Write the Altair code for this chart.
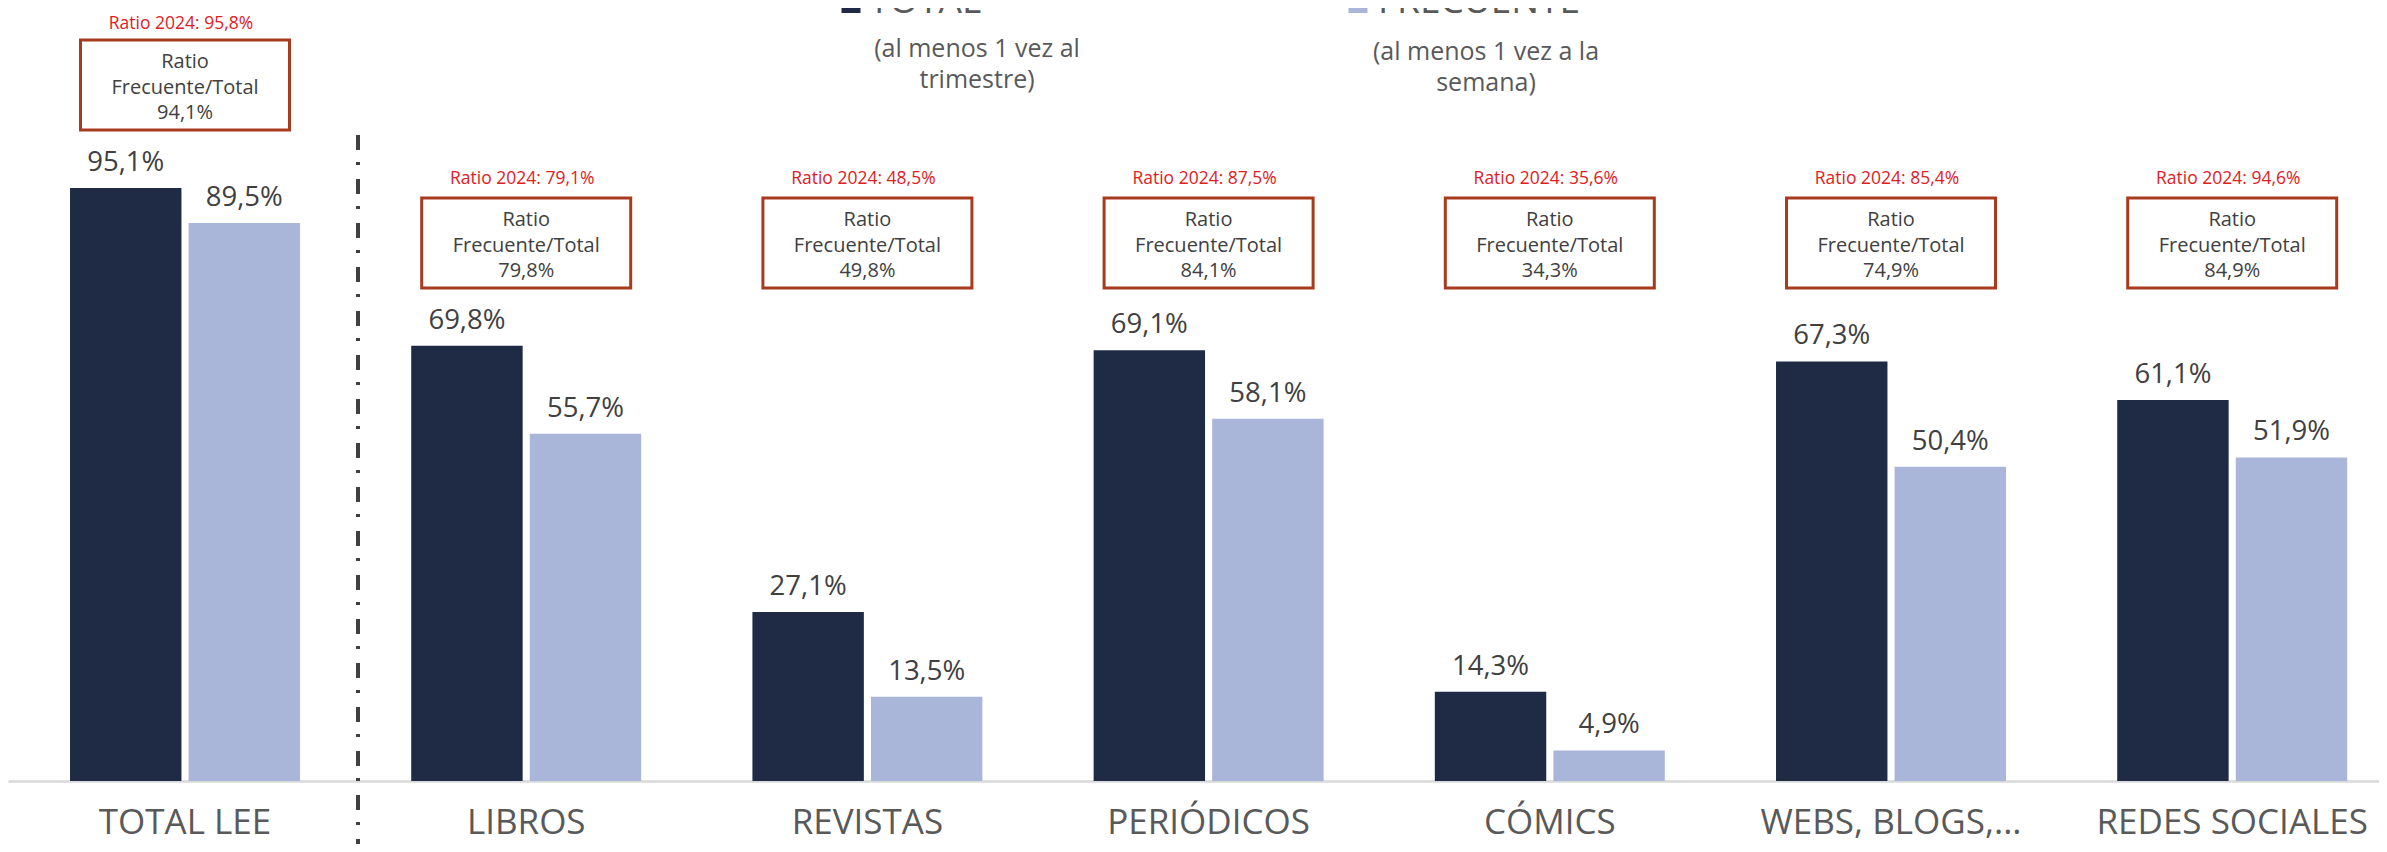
import altair as alt
import pandas as pd

categorias = ["TOTAL LEE", "LIBROS", "REVISTAS", "PERIÓDICOS", "CÓMICS", "WEBS, BLOGS,...", "REDES SOCIALES"]
total = [95.1, 69.8, 27.1, 69.1, 14.3, 67.3, 61.1]
frecuente = [89.5, 55.7, 13.5, 58.1, 4.9, 50.4, 51.9]
ratio_frec_total = [94.1, 79.8, 49.8, 84.1, 34.3, 74.9, 84.9]
ratio_2024 = [95.8, 79.1, 48.5, 87.5, 35.6, 85.4, 94.6]
series = ["TOTAL", "FRECUENTE"]
subtitulos = ["(al menos 1 vez al\ntrimestre)", "(al menos 1 vez a la\nsemana)"]
colores = ["#1F2A44", "#AAB6D9"]

FONT = "Open Sans"
BOX_COLOR = "#A83A1E"
RED = "#E0201F"
TXT = "#404040"
GREY = "#595959"

barras = pd.DataFrame({
    "categoria": categorias * 2,
    "serie": [series[0]] * len(categorias) + [series[1]] * len(categorias),
    "valor": total + frecuente,
})
ratios = pd.DataFrame({"categoria": categorias, "ratio": ratio_frec_total, "ratio24": ratio_2024})
leyenda = pd.DataFrame({"serie": series, "sub": subtitulos})

x_scale = alt.Scale(domain=categorias, paddingInner=0.326, paddingOuter=0.1375, align=0.661)
x_axis = alt.Axis(
    title=None, labelAngle=0, labelFontSize=35, labelFont=FONT, labelColor=GREY,
    ticks=False, tickSize=0, labelPadding=52, labelBaseline="alphabetic",
    domainColor="#D9D9D9", domainWidth=2.5, labelLimit=0, labelOverlap=False, grid=False,
)
x_enc = alt.X("categoria:N", sort=categorias, scale=x_scale, axis=x_axis)
y_scale = alt.Scale(domain=[0, 100], nice=False, zero=True)
xo_enc = alt.XOffset("serie:N", sort=series, scale=alt.Scale(domain=series, paddingInner=0.06, paddingOuter=0))
color_scale = alt.Scale(domain=series, range=colores)

pct = "replace(format({f}, '.1f'), '.', ',') + '%'"

bars = alt.Chart(barras).mark_bar().encode(
    x=x_enc,
    xOffset=xo_enc,
    y=alt.Y("valor:Q", scale=y_scale, axis=None),
    color=alt.Color("serie:N", scale=color_scale, legend=None),
)

bar_labels = alt.Chart(barras).transform_calculate(
    lbl=pct.format(f="datum.valor")
).mark_text(dy=-17, baseline="alphabetic", align="center", fontSize=27.5, font=FONT, color=TXT).encode(
    x=x_enc,
    xOffset=xo_enc,
    y=alt.Y("valor:Q", scale=y_scale, axis=None),
    text="lbl:N",
)

boxes = alt.Chart(ratios).transform_calculate(
    top="datum.categoria === 'TOTAL LEE' ? 118.85 : 93.5",
    bottom="datum.categoria === 'TOTAL LEE' ? 104.4 : 79.05",
).mark_bar(width=209, fill="white", stroke=BOX_COLOR, strokeWidth=3).encode(
    x=x_enc,
    y=alt.Y("top:Q", scale=y_scale, axis=None),
    y2="bottom:Q",
)

red_text = alt.Chart(ratios).transform_calculate(
    ry="datum.categoria === 'TOTAL LEE' ? 120.6 : 95.75",
    rt="'Ratio 2024: ' + " + pct.format(f="datum.ratio24"),
).mark_text(baseline="alphabetic", align="center", dx=-4, fontSize=17.5, font=FONT, color=RED).encode(
    x=x_enc,
    y=alt.Y("ry:Q", scale=y_scale, axis=None),
    text="rt:N",
)

box_text = alt.Chart(ratios).transform_calculate(
    ty="datum.categoria === 'TOTAL LEE' ? 114.35 : 89.0",
    tt="'Ratio\\nFrecuente/Total\\n' + " + pct.format(f="datum.ratio"),
).mark_text(baseline="alphabetic", align="center", lineBreak="\n", lineHeight=25.5,
            fontSize=20, font=FONT, color=TXT).encode(
    x=x_enc,
    y=alt.Y("ty:Q", scale=y_scale, axis=None),
    text="tt:N",
)

separator = alt.Chart(pd.DataFrame({"k": [0]})).mark_rule(
    strokeDash=[15, 12, 3, 14], strokeWidth=4, color=TXT
).encode(x=alt.value(350), y=alt.value(-22.5), y2=alt.value(700))

legend_layers = []
pos = {
    "TOTAL": dict(sq_x=843, lab_x=861, sub_x=969, sub_y=-100.5),
    "FRECUENTE": dict(sq_x=1350, lab_x=1370, sub_x=1478, sub_y=-97.5),
}
for s in series:
    p = pos[s]
    src = alt.Chart(leyenda).transform_filter(alt.datum.serie == s)
    legend_layers.append(
        src.mark_square(size=361, opacity=1).encode(
            x=alt.value(p["sq_x"]), y=alt.value(-154),
            color=alt.Color("serie:N", scale=color_scale, legend=None),
        )
    )
    legend_layers.append(
        src.mark_text(align="left", baseline="alphabetic", fontSize=37, font=FONT, color=GREY).encode(
            x=alt.value(p["lab_x"]), y=alt.value(-145), text="serie:N",
        )
    )
    legend_layers.append(
        src.mark_text(align="center", baseline="alphabetic", fontSize=25, font=FONT, color=GREY,
                      lineBreak="\n", lineHeight=31).encode(
            x=alt.value(p["sub_x"]), y=alt.value(p["sub_y"]), text="sub:N",
        )
    )

chart = alt.layer(
    bars, bar_labels, boxes, red_text, box_text, separator, *legend_layers
).properties(
    width=2371,
    height=623.5,
    autosize=alt.AutoSizeParams(type="none"),
    padding={"left": 0, "top": 149.5, "right": 0, "bottom": 63},
    background="white",
).configure(font=FONT).configure_view(stroke=None, strokeWidth=0)

chart.save("out.html", embed_options={"renderer": "svg", "actions": False})
